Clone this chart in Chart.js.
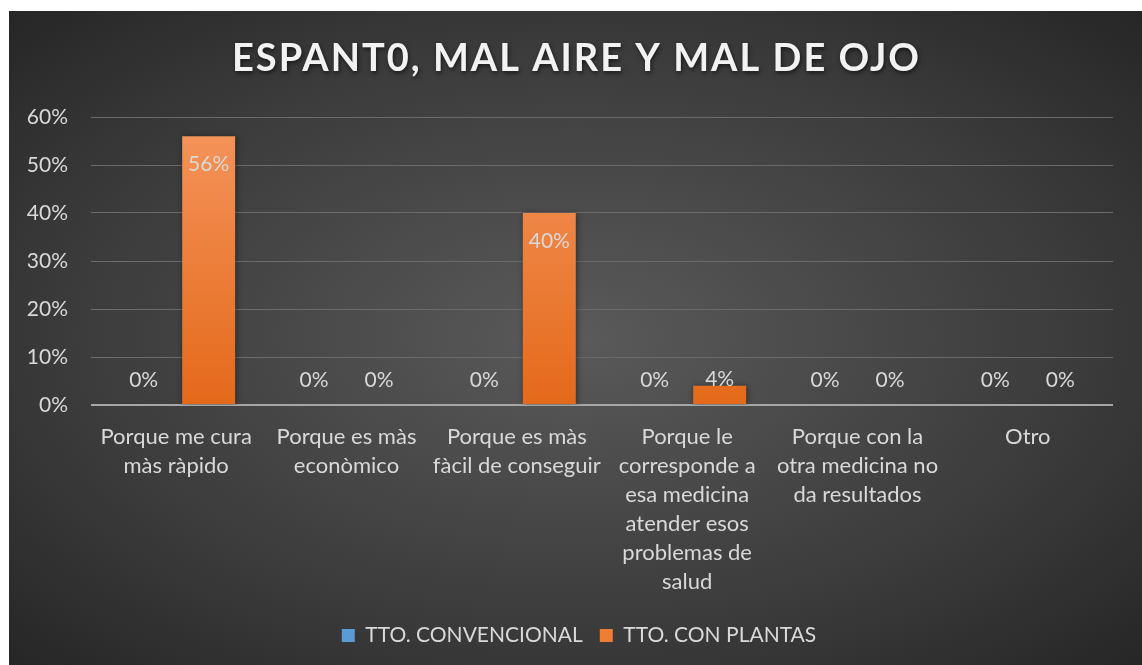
<!DOCTYPE html>
<html>
<head>
<meta charset="utf-8">
<script src="https://cdn.jsdelivr.net/npm/chart.js@4.4.0/dist/chart.umd.min.js"></script>
<style>
    html, body { margin: 0; padding: 0; background: #ffffff; }
    .chart-box {
        position: absolute;
        left: 9px;
        top: 11px;
        width: 1133px;
        height: 654px;
        background: radial-gradient(ellipse farthest-corner at 50% 50%, #5a5a5a 0%, #3a3a3a 65%, #262626 100%);
    }
</style>
</head>
<body>
<div class="chart-box"><canvas id="espanto-chart" width="1133" height="654"></canvas></div>
<script>
const chartTitle = 'ESPANT0, MAL AIRE Y MAL DE OJO';
const categories = [
    ['Porque me cura', 'màs ràpido'],
    ['Porque es màs', 'econòmico'],
    ['Porque es màs', 'fàcil de conseguir'],
    ['Porque le', 'corresponde a', 'esa medicina', 'atender esos', 'problemas de', 'salud'],
    ['Porque con la', 'otra medicina no', 'da resultados'],
    ['Otro']
];
const seriesNames = ['TTO. CONVENCIONAL', 'TTO. CON PLANTAS'];
const convencional = [0, 0, 0, 0, 0, 0];
const conPlantas = [0.56, 0, 0.40, 0.04, 0, 0];
const yTicks = [0, 0.1, 0.2, 0.3, 0.4, 0.5, 0.6];

const textColor = '#d9d9d9';
const fontFamily = 'Lato, "Open Sans", sans-serif';

const pct = v => Math.round(v * 100) + '%';

function barFill(top, bottom) {
    return (context) => {
        const { ctx, chartArea } = context.chart;
        if (!chartArea) return bottom;
        const g = ctx.createLinearGradient(0, chartArea.top, 0, chartArea.bottom);
        g.addColorStop(0, top);
        g.addColorStop(1, bottom);
        return g;
    };
}

// title with letter spacing and shadow
const titlePlugin = {
    id: 'titleText',
    afterDraw(chart) {
        const ctx = chart.ctx;
        ctx.save();
        ctx.font = 'bold 38px ' + fontFamily;
        ctx.letterSpacing = '2px';
        ctx.textAlign = 'center';
        ctx.textBaseline = 'middle';
        ctx.shadowColor = 'rgba(0,0,0,0.6)';
        ctx.shadowBlur = 4;
        ctx.shadowOffsetX = 1;
        ctx.shadowOffsetY = 2;
        ctx.fillStyle = '#f2f2f2';
        ctx.fillText(chartTitle, chart.width / 2 + 1, 48);
        ctx.restore();
    }
};

// legend is centred on the whole canvas, not only on the plot width
const legendSpan = {
    id: 'legendSpan',
    afterLayout(chart) {
        if (chart.legend) {
            chart.legend.left = 7;
            chart.legend.right = chart.width;
        }
    }
};

// soft shadow behind the bars
const barShadow = {
    id: 'barShadow',
    beforeDatasetDraw(chart) {
        const ctx = chart.ctx;
        ctx.save();
        ctx.shadowColor = 'rgba(0,0,0,0.45)';
        ctx.shadowBlur = 6;
        ctx.shadowOffsetX = 1;
        ctx.shadowOffsetY = 1;
    },
    afterDatasetDraw(chart) {
        chart.ctx.restore();
    }
};

// value labels: inside end, or just above the axis when the bar is short
const valueLabels = {
    id: 'valueLabels',
    afterDatasetsDraw(chart) {
        const ctx = chart.ctx;
        ctx.save();
        ctx.font = '21px ' + fontFamily;
        ctx.fillStyle = textColor;
        ctx.textAlign = 'center';
        ctx.textBaseline = 'middle';
        chart.data.datasets.forEach((ds, di) => {
            chart.getDatasetMeta(di).data.forEach((bar, i) => {
                const y = Math.min(bar.y + 28, bar.base - 25);
                ctx.fillText(pct(ds.data[i]), bar.x, y);
            });
        });
        ctx.restore();
    }
};

new Chart(document.getElementById('espanto-chart'), {
    type: 'bar',
    data: {
        labels: categories,
        datasets: [{
            label: seriesNames[0],
            data: convencional,
            backgroundColor: barFill('#6aa6dd', '#4a8bcb'),
            categoryPercentage: 0.763,
            barPercentage: 0.815
        }, {
            label: seriesNames[1],
            data: conPlantas,
            backgroundColor: barFill('#f5955c', '#e4691a'),
            categoryPercentage: 0.763,
            barPercentage: 0.815
        }]
    },
    options: {
        responsive: false,
        animation: false,
        layout: { padding: { top: 106, right: 29, bottom: 9, left: 0 } },
        scales: {
            x: {
                grid: { display: false, drawTicks: false },
                border: { display: false },
                ticks: {
                    color: textColor,
                    padding: 17,
                    maxRotation: 0,
                    autoSkip: false,
                    font: { family: fontFamily, size: 22, lineHeight: 1.32 }
                },
                afterFit: scale => { scale.height = 203; }
            },
            y: {
                min: 0,
                max: 0.6,
                afterBuildTicks: scale => { scale.ticks = yTicks.map(v => ({ value: v })); },
                grid: {
                    drawTicks: false,
                    color: ctx => ctx.index === 0 ? '#a6a6a6' : '#6b6b6b',
                    lineWidth: ctx => ctx.index === 0 ? 2 : 1
                },
                border: { display: false },
                ticks: {
                    color: textColor,
                    padding: 23,
                    font: { family: fontFamily, size: 21 },
                    callback: v => pct(v)
                },
                afterFit: scale => { scale.width = 82; }
            }
        },
        plugins: {
            title: { display: false },
            tooltip: { enabled: false },
            legend: {
                position: 'bottom',
                labels: {
                    color: textColor,
                    boxWidth: 13,
                    boxHeight: 13,
                    padding: 17,
                    font: { family: fontFamily, size: 21 },
                    generateLabels: chart => seriesNames.map((name, i) => ({
                        text: name,
                        fillStyle: i === 0 ? '#5b9bd5' : '#ef7d33',
                        strokeStyle: 'transparent',
                        lineWidth: 0,
                        fontColor: textColor,
                        hidden: false,
                        datasetIndex: i
                    }))
                }
            }
        }
    },
    plugins: [titlePlugin, legendSpan, barShadow, valueLabels]
});
</script>
</body>
</html>
